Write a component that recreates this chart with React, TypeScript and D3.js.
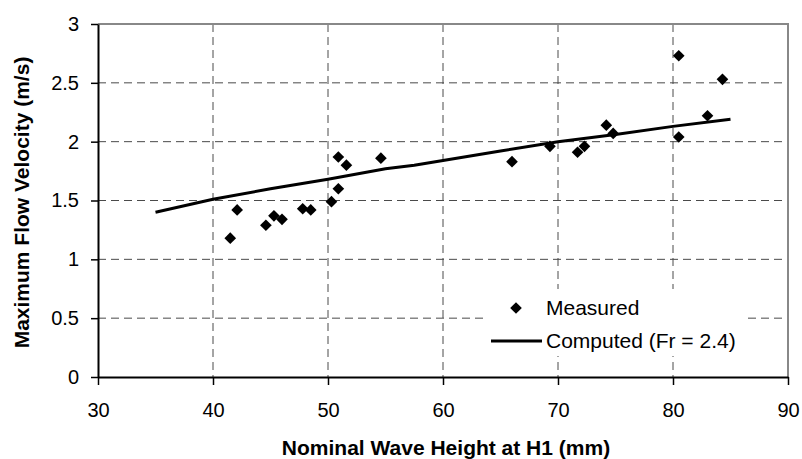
import React, { useEffect, useRef } from 'react'
import * as d3 from 'd3'

// measured points (nominal wave height mm, max flow velocity m/s)
const measuredH = [41.5, 42.1, 44.6, 45.3, 46.0, 47.8, 48.5, 50.3, 50.9, 50.9, 51.6, 54.6,
    66.0, 69.3, 71.7, 72.3, 74.2, 74.8, 80.5, 80.5, 83.0, 84.3]
const measuredV = [1.18, 1.42, 1.29, 1.37, 1.34, 1.43, 1.42, 1.49, 1.60, 1.87, 1.80, 1.86,
    1.83, 1.96, 1.91, 1.96, 2.14, 2.07, 2.73, 2.04, 2.22, 2.53]

// computed curve (Fr = 2.4)
const computedH = [35, 40, 45, 50, 55, 57.5, 60, 65, 70, 75, 80, 85]
const computedV = [1.40, 1.51, 1.60, 1.68, 1.77, 1.80, 1.84, 1.92, 2.00, 2.06, 2.13, 2.19]

const xTicks = [30, 40, 50, 60, 70, 80, 90]
const yTicks = [0, 0.5, 1, 1.5, 2, 2.5, 3]

const W = 802, H = 459
const margin = { top: 24, right: 14, bottom: 82, left: 98 }
const FONT = "'Liberation Sans', Arial, sans-serif"

export default function App() {
    const ref = useRef<SVGSVGElement>(null)

    useEffect(() => {
        const svg = d3.select(ref.current)
        svg.selectAll('*').remove()

        const x = d3.scaleLinear().domain([30, 90]).range([margin.left, W - margin.right])
        const y = d3.scaleLinear().domain([0, 3]).range([H - margin.bottom, margin.top])

        svg.append('rect').attr('width', W).attr('height', H).attr('fill', 'white')

        // grid
        const grid = svg.append('g')
            .attr('stroke', '#4a4a4a')
            .attr('stroke-width', 1)
            .attr('stroke-dasharray', '8,5')
        grid.selectAll('line.v')
            .data(xTicks.slice(1, -1))
            .join('line')
            .attr('class', 'v')
            .attr('x1', d => x(d)).attr('x2', d => x(d))
            .attr('y1', y(3)).attr('y2', y(0))
        grid.selectAll('line.h')
            .data(yTicks.slice(1, -1))
            .join('line')
            .attr('class', 'h')
            .attr('x1', x(30)).attr('x2', x(90))
            .attr('y1', d => y(d)).attr('y2', d => y(d))

        // frame: top/right grey, left/bottom black
        svg.append('path')
            .attr('d', `M${x(30)},${y(3)}H${x(90)}V${y(0)}`)
            .attr('fill', 'none')
            .attr('stroke', '#888')
            .attr('stroke-width', 2)

        const xAxis = svg.append('g')
            .attr('transform', `translate(0,${y(0)})`)
            .call(d3.axisBottom(x).tickValues(xTicks).tickSize(8).tickSizeOuter(0).tickPadding(18))
        const yAxis = svg.append('g')
            .attr('transform', `translate(${x(30)},0)`)
            .call(d3.axisLeft(y).tickValues(yTicks).tickSize(7).tickSizeOuter(0).tickPadding(12)
                .tickFormat(d => String(d)))
        for (const a of [xAxis, yAxis]) {
            a.select('.domain').attr('stroke', '#000').attr('stroke-width', 2)
            a.selectAll('.tick line').attr('stroke', '#000').attr('stroke-width', 1.5)
            a.selectAll('.tick text')
                .attr('font-family', FONT)
                .attr('font-size', 20)
                .attr('fill', '#000')
        }

        // computed line
        const line = d3.line<number>()
            .x((_, i) => x(computedH[i]))
            .y(d => y(d))
        svg.append('path')
            .datum(computedV)
            .attr('d', line)
            .attr('fill', 'none')
            .attr('stroke', '#000')
            .attr('stroke-width', 3)

        // measured diamonds
        const diamond = d3.symbol(d3.symbolSquare, 68)
        svg.append('g')
            .selectAll('path')
            .data(measuredV)
            .join('path')
            .attr('d', diamond)
            .attr('transform', (d, i) => `translate(${x(measuredH[i])},${y(d)}) rotate(45)`)
            .attr('fill', '#000')

        // legend
        const lg = svg.append('g')
        lg.append('rect')
            .attr('x', 484).attr('y', 289).attr('width', 262).attr('height', 67)
            .attr('fill', 'white')
        lg.append('path')
            .attr('d', diamond)
            .attr('transform', 'translate(516,308) rotate(45)')
            .attr('fill', '#000')
        lg.append('line')
            .attr('x1', 491).attr('x2', 542).attr('y1', 341).attr('y2', 341)
            .attr('stroke', '#000').attr('stroke-width', 3)
        lg.append('text')
            .attr('x', 546).attr('y', 315)
            .attr('font-family', FONT).attr('font-size', 21)
            .text('Measured')
        lg.append('text')
            .attr('x', 546).attr('y', 348)
            .attr('font-family', FONT).attr('font-size', 21)
            .text('Computed (Fr = 2.4)')

        // axis titles
        svg.append('text')
            .attr('x', 446).attr('y', 455)
            .attr('text-anchor', 'middle')
            .attr('font-family', FONT).attr('font-size', 21).attr('font-weight', 'bold')
            .text('Nominal Wave Height at H1 (mm)')
        svg.append('text')
            .attr('transform', `translate(29,${(y(0) + y(3)) / 2 + 2}) rotate(-90)`)
            .attr('text-anchor', 'middle')
            .attr('font-family', FONT).attr('font-size', 21).attr('font-weight', 'bold')
            .text('Maximum Flow Velocity (m/s)')
    }, [])

    return (
        <svg ref={ref} width={W} height={H}
            style={{ position: 'absolute', left: 0, top: 0, display: 'block' }} />
    )
}
